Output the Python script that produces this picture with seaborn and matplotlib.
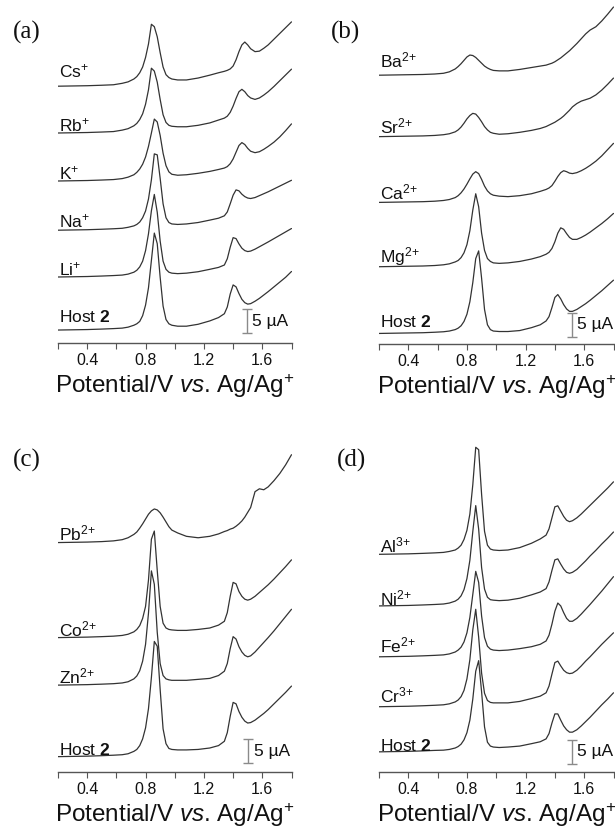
import matplotlib
matplotlib.use("Agg")
import matplotlib.pyplot as plt
import pandas as pd
import seaborn as sns

# ---------------- data (current in uA, relative to each trace's own start) ----------------
POTENTIAL = [0.20, 0.30, 0.40, 0.50, 0.58, 0.64, 0.68, 0.72, 0.74, 0.76, 0.78, 0.80, 0.82,
             0.84, 0.86, 0.88, 0.90, 0.92, 0.94, 0.96, 0.98, 1.02, 1.08, 1.16, 1.24, 1.30,
             1.34, 1.36, 1.38, 1.40, 1.42, 1.44, 1.46, 1.48, 1.50, 1.52, 1.55, 1.58, 1.61,
             1.64, 1.68, 1.72, 1.76, 1.80]

# panel (a)
A_LABELS = ["Cs$^{+}$", "Rb$^{+}$", "K$^{+}$", "Na$^{+}$", "Li$^{+}$", r"Host $\mathbf{2}$"]
A_CS = [0, 0.05, 0.1, 0.2, 0.3, 0.6, 0.9, 1.5, 2.0, 2.8, 4.0, 6.0, 8.8, 12.9, 12.4, 10.3, 7.0, 4.0, 2.4, 1.8, 1.5, 1.3, 1.3, 1.7, 2.3, 2.8, 3.1, 3.3, 3.6, 4.2, 5.5, 7.2, 8.6, 9.2, 8.6, 7.8, 7.2, 7.3, 7.9, 8.6, 9.8, 11.0, 12.2, 13.4]
A_RB = [0, 0.05, 0.1, 0.2, 0.3, 0.6, 0.9, 1.5, 2.0, 2.8, 4.0, 6.0, 9.0, 13.5, 12.9, 10.6, 7.0, 3.8, 2.2, 1.6, 1.4, 1.3, 1.3, 1.6, 2.1, 2.7, 3.1, 3.5, 4.3, 5.6, 7.2, 8.6, 9.1, 8.6, 7.8, 7.3, 7.0, 7.3, 7.9, 8.6, 9.7, 10.9, 12.1, 13.3]
A_K = [0, 0.05, 0.1, 0.2, 0.3, 0.5, 0.8, 1.3, 1.8, 2.5, 3.5, 5.0, 7.2, 10.0, 12.9, 12.3, 9.5, 5.8, 3.2, 1.9, 1.4, 1.2, 1.3, 1.6, 2.0, 2.4, 2.7, 3.0, 3.6, 4.6, 6.0, 7.4, 8.0, 7.6, 6.8, 6.2, 5.9, 6.1, 6.6, 7.2, 8.1, 9.2, 10.5, 11.9]
A_NA = [0, 0.05, 0.1, 0.2, 0.3, 0.4, 0.6, 0.9, 1.2, 1.7, 2.6, 4.0, 6.5, 10.5, 15.9, 15.7, 10.8, 5.5, 2.6, 1.6, 1.3, 1.2, 1.3, 1.6, 2.1, 2.5, 3.0, 3.8, 5.5, 7.3, 8.4, 8.2, 7.5, 7.0, 6.7, 6.6, 6.8, 7.2, 7.6, 8.0, 8.6, 9.2, 9.8, 10.4]
A_LI = [0, 0.05, 0.1, 0.2, 0.3, 0.4, 0.6, 1.0, 1.4, 2.1, 3.3, 5.5, 9.0, 13.8, 17.2, 13.5, 7.5, 3.3, 1.6, 1.0, 0.8, 0.7, 0.8, 1.1, 1.6, 2.0, 2.5, 3.8, 6.2, 8.2, 8.0, 6.9, 6.0, 5.5, 5.3, 5.4, 5.8, 6.3, 6.8, 7.3, 8.0, 8.7, 9.4, 10.1]
A_HOST = [0, 0.05, 0.1, 0.2, 0.3, 0.4, 0.6, 1.0, 1.3, 1.8, 3.0, 5.2, 8.8, 14.5, 20.2, 18.0, 11.0, 5.0, 2.2, 1.3, 1.0, 0.8, 0.8, 1.2, 1.9, 2.6, 3.4, 4.8, 7.5, 9.4, 9.0, 7.6, 6.4, 5.7, 5.4, 5.5, 6.0, 6.6, 7.3, 8.0, 9.0, 10.0, 11.0, 12.2]
A_OFFSETS = [53.5, 43.75, 33.75, 23.5, 13.75, 2.7]

# panel (b)
B_LABELS = ["Ba$^{2{+}}$", "Sr$^{2{+}}$", "Ca$^{2{+}}$", "Mg$^{2{+}}$", r"Host $\mathbf{2}$"]
B_BA = [0, 0.05, 0.1, 0.15, 0.25, 0.4, 0.7, 1.3, 1.8, 2.4, 3.1, 3.8, 4.2, 4.1, 3.7, 3.1, 2.5, 1.9, 1.5, 1.2, 1.0, 0.9, 0.9, 1.2, 1.6, 1.9, 2.1, 2.3, 2.5, 2.8, 3.2, 3.6, 4.1, 4.6, 5.1, 5.7, 6.6, 7.6, 8.6, 9.4, 10.1, 11.3, 12.7, 14.2]
B_SR = [0, 0.05, 0.1, 0.15, 0.25, 0.4, 0.6, 1.0, 1.4, 2.0, 2.8, 3.7, 4.4, 4.85, 4.7, 4.0, 3.1, 2.1, 1.4, 0.9, 0.7, 0.5, 0.6, 0.9, 1.3, 1.7, 2.1, 2.4, 2.7, 3.0, 3.4, 3.8, 4.3, 4.9, 5.5, 6.2, 6.9, 7.4, 7.7, 8.0, 8.7, 9.7, 10.9, 12.2]
B_CA = [0, 0.05, 0.1, 0.15, 0.25, 0.4, 0.6, 1.0, 1.4, 2.0, 2.8, 3.8, 4.9, 5.9, 6.4, 6.0, 4.8, 3.4, 2.4, 1.8, 1.5, 1.3, 1.2, 1.4, 1.8, 2.3, 2.7, 3.0, 3.5, 4.4, 5.4, 6.2, 6.6, 6.4, 6.1, 6.0, 6.2, 6.6, 7.1, 7.7, 8.6, 9.7, 11.0, 12.3]
B_MG = [0, 0.05, 0.1, 0.15, 0.25, 0.4, 0.6, 1.0, 1.3, 1.9, 2.9, 4.6, 7.5, 11.8, 15.2, 12.5, 7.0, 3.4, 1.7, 1.1, 0.8, 0.7, 0.8, 1.1, 1.6, 2.1, 2.6, 3.0, 3.8, 5.2, 7.0, 8.1, 7.8, 6.9, 6.1, 5.7, 5.7, 6.1, 6.6, 7.2, 8.1, 9.0, 10.0, 11.1]
B_HOST = [0, 0.05, 0.1, 0.15, 0.25, 0.35, 0.5, 0.8, 1.1, 1.6, 2.5, 4.0, 6.6, 10.6, 15.6, 17.2, 11.5, 5.0, 1.8, 0.8, 0.5, 0.4, 0.4, 0.6, 1.2, 1.8, 2.6, 3.5, 5.4, 7.5, 8.1, 7.2, 6.0, 5.1, 4.6, 4.6, 5.0, 5.6, 6.2, 6.9, 7.9, 8.9, 10.0, 11.1]
B_OFFSETS = [56.0, 43.2, 29.5, 16.1, 2.2]

# panel (c)
C_LABELS = ["Pb$^{2{+}}$", "Co$^{2{+}}$", "Zn$^{2{+}}$", r"Host $\mathbf{2}$"]
C_PB = [0, 0.05, 0.1, 0.2, 0.35, 0.6, 1.0, 1.7, 2.2, 3.0, 3.9, 4.9, 5.9, 6.6, 7.0, 6.8, 6.2, 5.3, 4.3, 3.3, 2.6, 2.0, 1.3, 1.0, 1.3, 1.8, 2.3, 2.5, 2.8, 3.0, 3.4, 3.9, 4.5, 5.3, 6.3, 7.3, 10.6, 11.2, 11.0, 11.6, 12.9, 14.4, 16.2, 18.3]
C_CO = [0, 0.05, 0.1, 0.2, 0.3, 0.45, 0.7, 1.2, 1.7, 2.5, 4.0, 6.5, 12.0, 20.5, 22.2, 14.0, 6.5, 3.0, 2.0, 1.7, 1.6, 1.5, 1.5, 1.7, 2.0, 2.6, 3.4, 5.2, 8.6, 11.5, 11.2, 9.6, 8.6, 8.0, 7.8, 8.0, 8.6, 9.4, 10.2, 11.0, 12.2, 13.5, 14.8, 16.2]
C_ZN = [0, 0.05, 0.1, 0.2, 0.3, 0.45, 0.7, 1.3, 1.9, 3.0, 5.0, 8.5, 15.0, 23.8, 21.0, 11.0, 4.5, 2.0, 1.3, 1.1, 1.0, 1.0, 1.0, 1.2, 1.4, 2.0, 2.9, 4.5, 7.6, 10.1, 9.6, 8.0, 6.9, 6.2, 5.9, 6.1, 6.9, 7.9, 8.9, 9.9, 11.3, 12.8, 14.3, 15.8]
C_HOST = [0, 0.05, 0.1, 0.2, 0.3, 0.4, 0.6, 1.1, 1.5, 2.3, 3.7, 6.0, 10.0, 16.5, 24.0, 23.0, 14.0, 5.8, 2.7, 1.7, 1.5, 1.4, 1.4, 1.5, 1.8, 2.3, 3.2, 5.0, 8.4, 11.3, 11.0, 9.4, 8.2, 7.4, 7.0, 7.1, 7.6, 8.3, 9.0, 9.8, 11.0, 12.2, 13.4, 14.7]
C_OFFSETS = [47.8, 28.0, 18.1, 3.2]

# panel (d)
D_LABELS = ["Al$^{3{+}}$", "Ni$^{2{+}}$", "Fe$^{2{+}}$", "Cr$^{3{+}}$", r"Host $\mathbf{2}$"]
D_AL = [0, 0.05, 0.1, 0.2, 0.3, 0.4, 0.6, 0.9, 1.3, 1.9, 3.1, 5.0, 8.4, 14.5, 22.3, 21.8, 12.5, 4.8, 1.9, 1.1, 0.9, 0.8, 0.9, 1.4, 2.3, 3.2, 4.0, 5.3, 7.6, 9.9, 10.1, 9.0, 7.9, 7.1, 6.8, 7.0, 7.6, 8.4, 9.3, 10.2, 11.4, 12.6, 13.8, 15.1]
D_NI = [0, 0.05, 0.1, 0.2, 0.3, 0.4, 0.6, 1.0, 1.4, 2.1, 3.4, 5.7, 9.5, 15.5, 20.9, 16.0, 8.0, 3.5, 1.8, 1.3, 1.2, 1.1, 1.2, 1.6, 2.3, 2.9, 3.6, 5.0, 7.4, 9.6, 9.8, 8.7, 7.7, 7.0, 6.8, 7.0, 7.6, 8.5, 9.4, 10.4, 11.6, 12.9, 14.1, 15.4]
D_FE = [0, 0.05, 0.1, 0.2, 0.3, 0.4, 0.6, 1.0, 1.4, 2.0, 3.1, 5.0, 8.2, 13.0, 17.8, 15.5, 8.5, 4.0, 2.2, 1.6, 1.4, 1.3, 1.4, 1.7, 2.1, 2.6, 3.3, 4.5, 6.8, 9.5, 11.2, 10.6, 9.2, 8.0, 7.4, 7.4, 8.0, 8.9, 9.9, 10.9, 12.3, 13.7, 15.2, 16.7]
D_CR = [0, 0.05, 0.1, 0.2, 0.3, 0.4, 0.6, 1.0, 1.4, 2.1, 3.4, 5.8, 9.8, 16.0, 20.3, 14.5, 7.0, 2.8, 1.3, 0.9, 0.8, 0.8, 0.8, 1.1, 1.7, 2.2, 2.9, 4.3, 6.8, 9.2, 9.5, 8.5, 7.6, 7.1, 6.9, 7.0, 7.6, 8.5, 9.5, 10.4, 11.7, 13.0, 14.2, 15.4]
D_HOST = [0, 0.05, 0.1, 0.2, 0.3, 0.35, 0.5, 0.8, 1.1, 1.6, 2.5, 4.0, 6.6, 11.0, 16.8, 19.0, 12.5, 5.2, 2.0, 1.2, 1.0, 0.9, 1.0, 1.2, 1.7, 2.1, 2.7, 3.8, 6.0, 7.9, 7.9, 6.6, 5.4, 4.6, 4.1, 4.1, 4.6, 5.4, 6.3, 7.2, 8.5, 9.8, 11.0, 12.3]
D_OFFSETS = [45.35, 34.6, 24.0, 13.6, 4.2]

SCALE_UA = 5
X_TICKS = [0.2, 0.4, 0.6, 0.8, 1.0, 1.2, 1.4, 1.6, 1.8]
X_TICK_LABELS = ["", "0.4", "", "0.8", "", "1.2", "", "1.6", ""]
X_LABEL = r"Potential/V $\mathit{vs}$. Ag/Ag$^{+}$"

# ---------------- style ----------------
sns.set_style("white")
plt.rcParams["font.family"] = ["Liberation Sans", "DejaVu Sans"]
plt.rcParams["mathtext.fontset"] = "custom"
plt.rcParams["mathtext.rm"] = "Liberation Sans"
plt.rcParams["mathtext.it"] = "Liberation Sans:italic"
plt.rcParams["mathtext.bf"] = "Liberation Sans:bold"

W, H = 615, 831
PX_PER_UA = 4.8
LINE_COLOR = "#333333"

fig = plt.figure(figsize=(W / 100, H / 100), dpi=100)

panels = [
    dict(tag="(a)", tagpos=(27, 32), box=(58, 291.5, 10, 343), labels=A_LABELS,
         curves=[A_CS, A_RB, A_K, A_NA, A_LI, A_HOST], offsets=A_OFFSETS, bar=(1.494, 2.0),
         gaps_px=[9, 2, 1.5, 3, 1.5, 8]),
    dict(tag="(b)", tagpos=(346, 32), box=(379, 613.5, 0, 344), labels=B_LABELS,
         curves=[B_BA, B_SR, B_CA, B_MG, B_HOST], offsets=B_OFFSETS, bar=(1.517, 1.5),
         gaps_px=[8, 3, 3, 4, 6]),
    dict(tag="(c)", tagpos=(27, 460), box=(58, 291.5, 440, 772), labels=C_LABELS,
         curves=[C_PB, C_CO, C_ZN, C_HOST], offsets=C_OFFSETS, bar=(1.505, 1.8),
         gaps_px=[2, 1.5, 1.5, 1.5]),
    dict(tag="(d)", tagpos=(352, 460), box=(379, 613.5, 430, 772), labels=D_LABELS,
         curves=[D_AL, D_NI, D_FE, D_CR, D_HOST], offsets=D_OFFSETS, bar=(1.515, 1.7),
         gaps_px=[1.5, 1, 4, 4, 1]),
]

for p in panels:
    left, right, top, bottom = p["box"]
    ax = fig.add_axes([left / W, 1 - bottom / H, (right - left) / W, (bottom - top) / H])
    rows = []
    for lab, ys, off in zip(p["labels"], p["curves"], p["offsets"]):
        for x, y in zip(POTENTIAL, ys):
            rows.append((lab, x, y + off))
    df = pd.DataFrame(rows, columns=["ion", "potential", "current"])
    sns.lineplot(data=df, x="potential", y="current", units="ion", estimator=None,
                 sort=False, color=LINE_COLOR, lw=0.9, ax=ax, legend=False)
    for lab, off, gap in zip(p["labels"], p["offsets"], p["gaps_px"]):
        ax.text(0.21, off + gap / PX_PER_UA, lab, ha="left", va="baseline",
                fontsize=12.5, color="#111111")

    bx, by = p["bar"]
    ax.errorbar([bx], [by + SCALE_UA / 2], yerr=[SCALE_UA / 2], fmt="none",
                ecolor="#8a8a8a", elinewidth=1.0, capsize=3.5, capthick=1.0)
    ax.text(bx + 0.035, by + SCALE_UA / 2, f"{SCALE_UA} µA", ha="left", va="center",
            fontsize=12.5, color="#111111")

    ax.set_xlim(0.2, 1.8)
    ax.set_ylim(0, (bottom - top) / PX_PER_UA)
    ax.set_xticks(X_TICKS)
    ax.set_xticklabels(X_TICK_LABELS)
    ax.set_yticks([])
    ax.set_ylabel("")
    ax.set_xlabel(X_LABEL, fontsize=17.5, labelpad=3, color="#111111")
    sns.despine(ax=ax, left=True)
    ax.spines["bottom"].set_color("#555555")
    ax.spines["bottom"].set_linewidth(1.0)
    ax.tick_params(axis="x", bottom=True, direction="out", length=4, width=0.8,
                   color="#555555", labelsize=11.5, pad=3, labelcolor="#111111")
    ax.patch.set_alpha(0)

    fig.text(p["tagpos"][0] / W, 1 - p["tagpos"][1] / H, p["tag"], family="Liberation Serif",
             fontsize=18, ha="center", va="center", color="#111111")

fig.savefig("out.png", dpi=100)
